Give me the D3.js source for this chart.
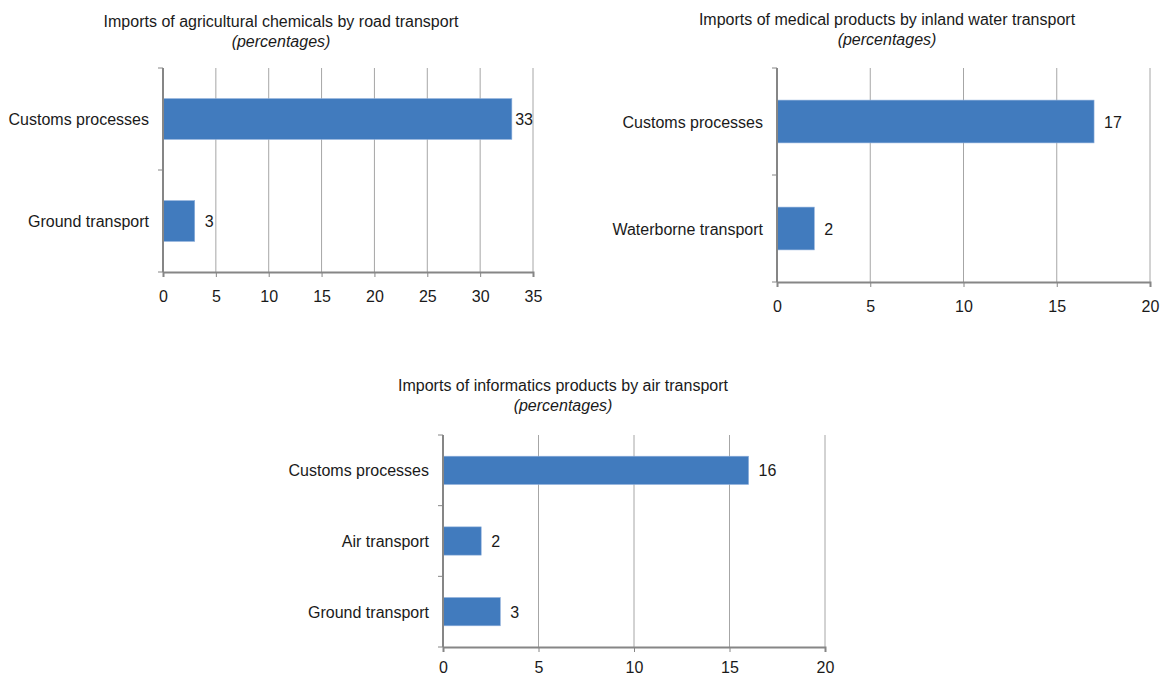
<!DOCTYPE html>
<meta charset="utf-8">
<html>
<head>
<script src="https://d3js.org/d3.v7.min.js" charset="utf-8"></script>
<style type="text/css">
    body { margin: 0; background: #fff; }
    text { font-family: "Liberation Sans", Arial, sans-serif; fill: #1a1a1a; }
    .title { font-size: 16px; }
    .sub { font-size: 16px; font-style: italic; }
    .cat { font-size: 16px; }
    .tick-label { font-size: 16px; }
    .val { font-size: 16px; }
</style>
</head>
<body>
<script type="text/javascript">

// chart 1: agricultural chemicals, road
var roadTitle = "Imports of agricultural chemicals by road transport";
var roadCategories = ["Customs processes", "Ground transport"];
var roadValues = [33, 3];
var roadTicks = [0, 5, 10, 15, 20, 25, 30, 35];

// chart 2: medical products, inland water
var waterTitle = "Imports of medical products by inland water transport";
var waterCategories = ["Customs processes", "Waterborne transport"];
var waterValues = [17, 2];
var waterTicks = [0, 5, 10, 15, 20];

// chart 3: informatics products, air
var airTitle = "Imports of informatics products by air transport";
var airCategories = ["Customs processes", "Air transport", "Ground transport"];
var airValues = [16, 2, 3];
var airTicks = [0, 5, 10, 15, 20];

var subtitle = "(percentages)";

var svg = d3.select("body").append("svg")
    .attr("width", 1162)
    .attr("height", 677);

function drawPanel(opt) {
    var x = d3.scaleLinear()
        .domain([0, d3.max(opt.ticks)])
        .range([opt.left, opt.right]);

    var y = d3.scaleBand()
        .domain(opt.categories)
        .range([opt.top, opt.bottom])
        .paddingInner(0.6)
        .paddingOuter(0.3);

    var g = svg.append("g");

    // titles
    g.append("text").attr("class", "title")
        .attr("x", opt.titleX).attr("y", opt.titleY)
        .attr("text-anchor", "middle")
        .text(opt.title);
    g.append("text").attr("class", "sub")
        .attr("x", opt.titleX).attr("y", opt.titleY + 20)
        .attr("text-anchor", "middle")
        .text(subtitle);

    // vertical gridlines
    g.selectAll(".grid")
        .data(opt.ticks.slice(1))
        .enter().append("line")
        .attr("x1", function(d) { return x(d); })
        .attr("x2", function(d) { return x(d); })
        .attr("y1", opt.top)
        .attr("y2", opt.bottom)
        .attr("stroke", "#a6a6a6")
        .attr("stroke-width", 1);

    // bars
    g.selectAll(".bar")
        .data(opt.values)
        .enter().append("rect")
        .attr("x", x(0))
        .attr("y", function(d, i) { return y(opt.categories[i]); })
        .attr("width", function(d) { return x(d) - x(0); })
        .attr("height", y.bandwidth())
        .attr("fill", "#417bbe")
        .attr("stroke", "#8fb0db")
        .attr("stroke-width", 0.6);

    // value labels
    g.selectAll(".val")
        .data(opt.values)
        .enter().append("text")
        .attr("class", "val")
        .attr("y", function(d, i) { return y(opt.categories[i]) + y.bandwidth() / 2 + 6; })
        .text(function(d) { return d; })
        .attr("x", function(d) {
            var w = this.getComputedTextLength();
            return Math.min(x(d) + 10, opt.right - w);
        });

    // x axis
    var xAxis = d3.axisBottom(x)
        .tickValues(opt.ticks)
        .tickSize(5)
        .tickPadding(opt.pad);
    var ax = g.append("g")
        .attr("transform", "translate(0," + opt.bottom + ")")
        .call(xAxis);
    ax.select(".domain").attr("stroke", "#868686").attr("stroke-width", 2);
    ax.selectAll(".tick line").attr("stroke", "#868686");
    ax.selectAll(".tick text")
        .attr("class", "tick-label")
        .attr("fill", "#1a1a1a")
        .style("font-family", "'Liberation Sans', Arial, sans-serif");

    // y axis: ticks between categories
    var step = y.step();
    var yTicks = [opt.top];
    opt.categories.forEach(function(c) {
        yTicks.push(y(c) + y.bandwidth() + step * 0.3);
    });
    yTicks[yTicks.length - 1] = opt.bottom;
    g.append("line")
        .attr("x1", x(0)).attr("x2", x(0))
        .attr("y1", opt.top).attr("y2", opt.bottom)
        .attr("stroke", "#868686").attr("stroke-width", 2);
    g.selectAll(".ytick")
        .data(yTicks)
        .enter().append("line")
        .attr("x1", x(0) - 5).attr("x2", x(0))
        .attr("y1", function(d) { return d; })
        .attr("y2", function(d) { return d; })
        .attr("stroke", "#868686");

    // category labels
    g.selectAll(".cat")
        .data(opt.categories)
        .enter().append("text")
        .attr("class", "cat")
        .attr("x", x(0) - 14)
        .attr("y", function(d) { return y(d) + y.bandwidth() / 2 + 6; })
        .attr("text-anchor", "end")
        .text(function(d) { return d; });
}

drawPanel({
    title: roadTitle, categories: roadCategories, values: roadValues, ticks: roadTicks,
    left: 163, right: 533, top: 68, bottom: 272, titleX: 281, titleY: 27, pad: 14
});

drawPanel({
    title: waterTitle, categories: waterCategories, values: waterValues, ticks: waterTicks,
    left: 777, right: 1150, top: 68, bottom: 282, titleX: 887, titleY: 25, pad: 14
});

drawPanel({
    title: airTitle, categories: airCategories, values: airValues, ticks: airTicks,
    left: 443, right: 825, top: 435, bottom: 647, titleX: 563, titleY: 391, pad: 10
});

</script>
</body>
</html>
